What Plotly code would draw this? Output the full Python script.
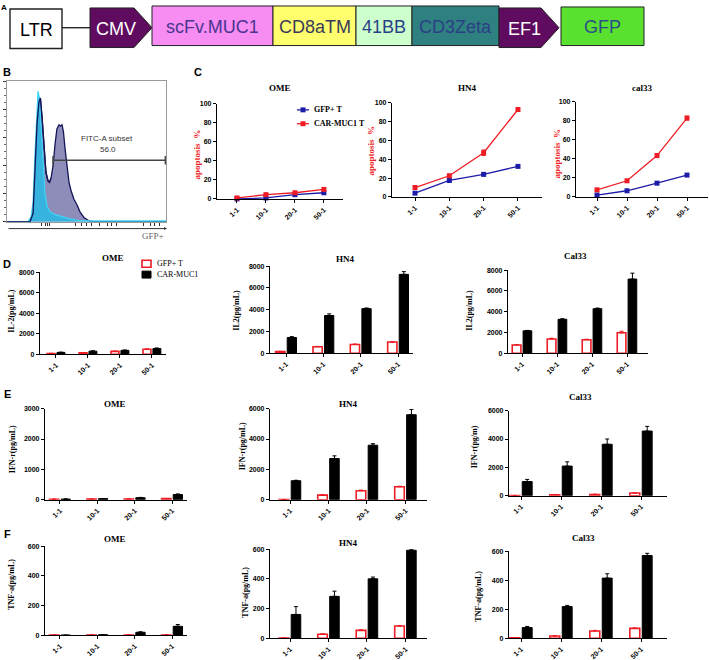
import plotly.graph_objects as go

W, H = 709, 660

# ---------------- data ----------------
categories = ["1-1", "10-1", "20-1", "50-1"]

# Panel B: flow histogram (x: GFP intensity units, y: % of max)
hist_ctrl_x = [0, 13.2, 15.1, 16.4, 17.6, 18.9, 19.5, 20.4, 21.4, 22.6, 23.9, 25.2, 27.0, 30.2, 34.6, 39.6, 44.7, 52.0, 100]
hist_ctrl_y = [0, 0, 3.5, 14, 49, 85, 93, 88, 67, 42, 20, 11, 7, 5, 3.5, 2, 1, 0.5, 0.5]
hist_car_x = [0, 14.5, 16.4, 17.6, 18.9, 20.1, 21.0, 22.0, 23.3, 24.5, 25.8, 26.7, 27.7, 29.0, 30.2, 31.4, 32.7, 33.6,
              34.6, 35.5, 36.5, 37.7, 39.0, 40.3, 42.1, 44.0, 45.9, 48.4, 51.0, 53.5, 100]
hist_car_y = [0, 0, 6, 35, 70, 85, 88, 75, 50, 35, 29, 28, 31, 40, 55, 66, 69, 68,
              69, 64, 52, 38, 28, 22, 16, 12, 7, 3, 1, 0, 0]
gate_subset = "FITC-A subset"
gate_value = "56.0"

# Panel C: apoptosis %
apo_ome_gfp = [0, 1, 4.5, 6.5]
apo_ome_car = [1, 4.5, 6.5, 10]
apo_hn4_gfp = [4, 17.5, 24, 32.5]
apo_hn4_gfp_err = [0.5, 1, 1, 1]
apo_hn4_car = [10, 22.5, 47, 93]
apo_hn4_car_err = [1, 1.5, 3, 2]
apo_cal_gfp = [2, 6.5, 14.5, 23]
apo_cal_gfp_err = [0.5, 0.5, 1, 1]
apo_cal_car = [7.5, 17, 43.5, 83]
apo_cal_car_err = [1, 1, 2, 2]

# Panel D: IL-2 (pg/mL)
il2_ome_gfp = [80, 150, 280, 480]
il2_ome_car = [180, 300, 380, 560]
il2_ome_gfp_err = [10, 20, 30, 40]
il2_ome_car_err = [20, 30, 30, 50]
il2_hn4_gfp = [150, 600, 810, 1030]
il2_hn4_gfp_err = [30, 30, 40, 50]
il2_hn4_car = [1450, 3470, 4100, 7250]
il2_hn4_car_err = [80, 150, 60, 250]
il2_cal_gfp = [800, 1370, 1300, 1970]
il2_cal_gfp_err = [30, 80, 50, 150]
il2_cal_car = [2160, 3270, 4290, 7140]
il2_cal_car_err = [40, 50, 60, 570]

# Panel E: IFN-r (pg/mL)
ifn_ome_gfp = [15, 20, 25, 35]
ifn_ome_gfp_err = [3, 3, 5, 5]
ifn_ome_car = [20, 35, 65, 170]
ifn_ome_car_err = [3, 5, 10, 20]
ifn_hn4_gfp = [10, 300, 590, 850]
ifn_hn4_gfp_err = [5, 40, 40, 40]
ifn_hn4_car = [1250, 2710, 3590, 5600]
ifn_hn4_car_err = [30, 180, 100, 350]
ifn_cal_gfp = [10, 70, 90, 190]
ifn_cal_gfp_err = [5, 20, 20, 20]
ifn_cal_car = [1000, 2090, 3630, 4560]
ifn_cal_car_err = [150, 300, 370, 330]

# Panel F: TNF-a (pg/mL)
tnf_ome_gfp = [0.5, 2, 2, 2]
tnf_ome_gfp_err = [0, 0.5, 0.5, 0.5]
tnf_ome_car = [0.5, 3, 20, 60]
tnf_ome_car_err = [0, 1, 3, 12]
tnf_hn4_gfp = [1, 27, 53, 82]
tnf_hn4_gfp_err = [0, 3, 4, 3]
tnf_hn4_car = [160, 282, 400, 593]
tnf_hn4_car_err = [53, 35, 12, 5]
tnf_cal_gfp = [2, 15, 50, 68]
tnf_cal_gfp_err = [0, 2, 4, 3]
tnf_cal_car = [73, 218, 414, 570]
tnf_cal_car_err = [8, 8, 30, 15]

series_names = ["GFP+ T", "CAR-MUC1 T"]
bar_names = ["GFP+ T", "CAR-MUC1"]

# Panel A: construct
A_parts = ["LTR", "CMV", "scFv.MUC1", "CD8aTM", "41BB", "CD3Zeta", "EF1", "GFP"]

# ---------------- style ----------------
RED = "#ee1c24"
BLUE = "#1c1ca8"
SANS = "Liberation Sans, Arial, sans-serif"
SERIF = "Liberation Serif, Times New Roman, serif"


def px(x):
    return x / W


def py(y):
    return 1 - y / H


fig = go.Figure()
layout = {}
shapes = []
annotations = []


def text_at(x, y, s, font, angle=0, xanchor="center", yanchor="middle"):
    annotations.append(dict(x=px(x), y=py(y), xref="paper", yref="paper", text=s, showarrow=False,
                            xanchor=xanchor, yanchor=yanchor, textangle=angle, font=font))


def axname(i):
    return ("xaxis", "yaxis") if i == 1 else (f"xaxis{i}", f"yaxis{i}")


def axref(i):
    return ("x", "y") if i == 1 else (f"x{i}", f"y{i}")


def add_axes(i, xpx, ypx, xrange, yrange, ydtick):
    xn, yn = axname(i)
    xr, yr = axref(i)
    layout[xn] = dict(domain=[px(xpx[0]), px(xpx[1])], range=xrange, anchor=yr,
                      showgrid=False, zeroline=False, showline=True, linecolor="black", linewidth=1.2,
                      ticks="outside", ticklen=3, tickwidth=1, tickcolor="black",
                      tickvals=list(range(len(categories))), ticktext=categories,
                      tickangle=-45, tickfont=dict(family=SANS, size=7, color="black", weight="bold"),
                      fixedrange=True)
    layout[yn] = dict(domain=[py(ypx[1]), py(ypx[0])], range=yrange, anchor=xr,
                      showgrid=False, zeroline=False, showline=True, linecolor="black", linewidth=1.2,
                      ticks="outside", ticklen=3, tickwidth=1, tickcolor="black",
                      dtick=ydtick, tick0=0,
                      tickfont=dict(family=SANS, size=7, color="black", weight="bold"),
                      fixedrange=True)


# ---------------- Panel B ----------------
xn, yn = axname(1)
layout[xn] = dict(domain=[px(7), px(166)], range=[0, 100], anchor="y", showgrid=False, zeroline=False,
                  showline=True, mirror=True, linecolor="#9a9a9a", linewidth=1,
                  ticks="outside", ticklen=3, tickcolor="#333",
                  tickvals=[22, 24, 25.5, 27, 43, 47, 50, 53, 58, 63, 66, 69, 86, 90, 93, 96],
                  showticklabels=False, fixedrange=True)
layout[yn] = dict(domain=[py(220), py(78)], range=[0, 100], anchor="x", showgrid=False, zeroline=False,
                  showline=True, mirror=True, linecolor="#9a9a9a", linewidth=1,
                  ticks="outside", ticklen=3, tickcolor="#333", dtick=20,
                  minor=dict(ticks="outside", ticklen=2, dtick=5, tickcolor="#666"),
                  showticklabels=False, fixedrange=True)
fig.add_trace(go.Scatter(x=hist_car_x, y=hist_car_y, mode="lines", fill="tozeroy",
                         fillcolor="#8e8cb8", line=dict(color="#15155a", width=1.3),
                         xaxis="x", yaxis="y", showlegend=False, hoverinfo="skip"))
fig.add_trace(go.Scatter(x=hist_ctrl_x, y=hist_ctrl_y, mode="lines", fill="tozeroy",
                         fillcolor="rgba(30,190,235,0.78)", line=dict(color="#3fd4f5", width=1.2),
                         xaxis="x", yaxis="y", showlegend=False, hoverinfo="skip"))
fig.add_trace(go.Scatter(x=hist_car_x[:13], y=hist_car_y[:13], mode="lines",
                         line=dict(color="#15155a", width=1.3),
                         xaxis="x", yaxis="y", showlegend=False, hoverinfo="skip"))

# gate
gate_y = (220 - 158) / 142 * 100
gate_x0 = (53 - 7) / 1.59
shapes.append(dict(type="line", xref="x", yref="y", x0=gate_x0, x1=99.6, y0=gate_y, y1=gate_y,
                   line=dict(color="#444", width=1.5)))
for gx in [gate_x0, 99.6]:
    shapes.append(dict(type="line", xref="x", yref="y", x0=gx, x1=gx, y0=gate_y - 3, y1=gate_y + 3,
                       line=dict(color="#444", width=1.5)))
text_at(107, 136, gate_subset, dict(family=SANS, size=8, color="#333"))
text_at(108, 147, gate_value, dict(family=SANS, size=8, color="#333"))
# arrow axis below
annotations.append(dict(x=px(167), y=py(227), xref="paper", yref="paper", ax=-160, ay=0, text="",
                        showarrow=True, arrowhead=2, arrowsize=0.6, arrowwidth=1, arrowcolor="#333"))
text_at(166, 234, "GFP+", dict(family=SERIF, size=9, color="#666"), xanchor="right")

# ---------------- Panel C ----------------
c_specs = [
    (2, (217, 343), (101, 197), [-0.69, 3.66], apo_ome_gfp, [0] * 4, apo_ome_car, [0] * 4, "OME", (280, 85), (197, 152)),
    (3, (392, 542), (100, 195), [-0.67, 3.7], apo_hn4_gfp, apo_hn4_gfp_err, apo_hn4_car, apo_hn4_car_err, "HN4", (467, 85), (371, 148)),
    (4, (576, 708), (99, 195), [-0.7, 3.7], apo_cal_gfp, apo_cal_gfp_err, apo_cal_car, apo_cal_car_err, "cal33", (642, 85), (557, 151)),
]
for (i, xp, yp, xr_, g, ge, c, ce, title, tpos, lpos) in c_specs:
    add_axes(i, xp, yp, xr_, [0, 100], 20)
    xr, yr = axref(i)
    for vals, errs, col, name in [(g, ge, BLUE, series_names[0]), (c, ce, RED, series_names[1])]:
        fig.add_trace(go.Scatter(x=list(range(len(categories))), y=vals, mode="lines+markers", name=name,
                                 line=dict(color=col, width=1.3),
                                 marker=dict(symbol="square", size=5, color=col),
                                 error_y=dict(type="data", array=errs, color=col, thickness=1, width=2),
                                 cliponaxis=False, xaxis=xr, yaxis=yr, showlegend=False))
    text_at(tpos[0], tpos[1], title, dict(family=SERIF, size=9, color="black", weight="bold"))
    text_at(lpos[0], lpos[1], "apoptosis  %", dict(family=SERIF, size=9, color=RED, weight="bold"), angle=-90)

# C legend (drawn)
for (name, col, ly) in [(series_names[0], BLUE, 107), (series_names[1], RED, 121)]:
    shapes.append(dict(type="line", xref="paper", yref="paper", x0=px(297), x1=px(309), y0=py(ly), y1=py(ly),
                       line=dict(color=col, width=1.3)))
    shapes.append(dict(type="rect", xref="paper", yref="paper", x0=px(300.5), x1=px(305.5), y0=py(ly + 2.5),
                       y1=py(ly - 2.5), fillcolor=col, line=dict(width=0)))
    text_at(312, ly, name, dict(family=SERIF, size=8, color="black", weight="bold"), xanchor="left")

# ---------------- Panels D, E, F ----------------
bar_specs = [
    (5, (40, 166), (271, 354), [-0.5, 3.44], [0, 8000], 2000, il2_ome_gfp, il2_ome_gfp_err, il2_ome_car, il2_ome_car_err, "OME", (113, 257), "IL-2(pg/mL)", (12, 311)),
    (6, (270, 413), (265, 353), [-0.43, 3.4], [0, 8000], 2000, il2_hn4_gfp, il2_hn4_gfp_err, il2_hn4_car, il2_hn4_car_err, "HN4", (345, 258), "IL2(pg/mL)", (237, 310)),
    (7, (508, 648), (269, 353), [-0.4, 3.6], [0, 8000], 2000, il2_cal_gfp, il2_cal_gfp_err, il2_cal_car, il2_cal_car_err, "Cal33", (575, 255), "IL2(pg/mL)", (470, 310)),
    (8, (45, 187), (409, 501), [-0.4, 3.4], [0, 3000], 1000, ifn_ome_gfp, ifn_ome_gfp_err, ifn_ome_car, ifn_ome_car_err, "OME", (115, 404), "IFN-r(pg/mL)", (12, 450)),
    (9, (270, 427), (409, 501), [-0.52, 3.56], [0, 6000], 2000, ifn_hn4_gfp, ifn_hn4_gfp_err, ifn_hn4_car, ifn_hn4_car_err, "HN4", (348, 404), "IFN-r(pg/mL)", (242, 447)),
    (10, (509, 667), (411, 497), [-0.3, 3.65], [0, 6000], 2000, ifn_cal_gfp, ifn_cal_gfp_err, ifn_cal_car, ifn_cal_car_err, "Cal33", (580, 397), "IFN-r(pg/m)", (474, 448)),
    (11, (45, 187), (548, 638), [-0.4, 3.4], [0, 600], 200, tnf_ome_gfp, tnf_ome_gfp_err, tnf_ome_car, tnf_ome_car_err, "OME", (115, 541), "TNF-a(pg/mL)", (12, 587)),
    (12, (270, 427), (551, 641), [-0.52, 3.56], [0, 600], 200, tnf_hn4_gfp, tnf_hn4_gfp_err, tnf_hn4_car, tnf_hn4_car_err, "HN4", (348, 545), "TNF-a(pg/mL)", (246, 595)),
    (13, (509, 667), (553, 641), [-0.3, 3.65], [0, 600], 200, tnf_cal_gfp, tnf_cal_gfp_err, tnf_cal_car, tnf_cal_car_err, "Cal33", (583, 540), "TNF-a(pg/mL)", (479, 598)),
]
for (i, xp, yp, xr_, yrng, dt, g, ge, c, ce, title, tpos, ylab, lpos) in bar_specs:
    add_axes(i, xp, yp, xr_, yrng, dt)
    xr, yr = axref(i)
    fig.add_trace(go.Bar(x=list(range(len(categories))), y=g, name=bar_names[0], offsetgroup="g",
                         marker=dict(color="white", line=dict(color=RED, width=1.6)),
                         error_y=dict(type="data", array=ge, arrayminus=[0] * 4, symmetric=False,
                                      color=RED, thickness=1, width=2),
                         xaxis=xr, yaxis=yr, showlegend=False, cliponaxis=False))
    fig.add_trace(go.Bar(x=list(range(len(categories))), y=c, name=bar_names[1], offsetgroup="c",
                         marker=dict(color="black", line=dict(color="black", width=1)),
                         error_y=dict(type="data", array=ce, arrayminus=[0] * 4, symmetric=False,
                                      color="black", thickness=1, width=2),
                         xaxis=xr, yaxis=yr, showlegend=False, cliponaxis=False))
    text_at(tpos[0], tpos[1], title, dict(family=SERIF, size=9, color="black", weight="bold"))
    text_at(lpos[0], lpos[1], ylab, dict(family=SERIF, size=8, color="black", weight="bold"), angle=-90)

# D legend (drawn)
shapes.append(dict(type="rect", xref="paper", yref="paper", x0=px(142), x1=px(151), y0=py(266), y1=py(259),
                   fillcolor="white", line=dict(color=RED, width=1.6)))
shapes.append(dict(type="rect", xref="paper", yref="paper", x0=px(142), x1=px(151), y0=py(277), y1=py(270),
                   fillcolor="black", line=dict(color="black", width=1)))
text_at(155, 262.5, bar_names[0], dict(family=SERIF, size=8, color="black"), xanchor="left")
text_at(155, 273.5, bar_names[1], dict(family=SERIF, size=8, color="black"), xanchor="left")

# ---------------- Panel A (construct diagram) ----------------
A_fill = ["white", "#5f0b5f", "#f78cf3", "#ffff6e", "#ccffcc", "#2f8080", "#5f0b5f", "#5ae02e"]
A_txt = ["black", "white", "#4a3590", "#3a3a5a", "#2b3f86", "#2b3f86", "white", "#2b4f8a"]
A_box = [(10, 62, 5, 45), (90, 152, 4, 44), (152, 273, 2, 42), (273, 356, 2, 42), (356, 412, 2, 42),
         (412, 499, 2, 42), (499, 559, 4, 44), (561, 644, 3, 42)]
A_arrow = [False, True, False, False, False, False, True, False]
shapes.append(dict(type="line", xref="paper", yref="paper", x0=px(62), x1=px(90), y0=py(24), y1=py(24),
                   line=dict(color="black", width=1.2)))
for name, fill, tc, (x0, x1, y0, y1), arrow in zip(A_parts, A_fill, A_txt, A_box, A_arrow):
    if arrow:
        xs = x1 - 18
        ym = (y0 + y1) / 2
        path = (f"M {px(x0)},{py(y0)} L {px(xs)},{py(y0)} L {px(x1)},{py(ym)} "
                f"L {px(xs)},{py(y1)} L {px(x0)},{py(y1)} Z")
        shapes.append(dict(type="path", xref="paper", yref="paper", path=path, fillcolor=fill,
                           line=dict(color="#222", width=1)))
        cx = (x0 + xs) / 2 + 4
    else:
        shapes.append(dict(type="rect", xref="paper", yref="paper", x0=px(x0), x1=px(x1), y0=py(y0), y1=py(y1),
                           fillcolor=fill, line=dict(color="#222", width=1.4 if name == "LTR" else 1)))
        cx = (x0 + x1) / 2
    text_at(cx, (y0 + y1) / 2 + 1, name, dict(family=SANS, size=18, color=tc))

# panel letters
for letter, (lx, ly), sz in [("A", (4, 4), 8), ("B", (7, 69), 11), ("C", (198, 69), 11),
                             ("D", (7, 263), 11), ("E", (7, 394), 11), ("F", (7, 536), 11)]:
    text_at(lx, ly, letter, dict(family=SANS, size=sz, color="black", weight="bold"))

layout.update(dict(
    width=W, height=H, margin=dict(l=0, r=0, t=0, b=0), paper_bgcolor="white", plot_bgcolor="rgba(0,0,0,0)",
    barmode="group", bargap=0.38, bargroupgap=0.2,
    shapes=shapes, annotations=annotations, showlegend=False,
))
fig.update_layout(**layout)
fig.write_html("out.html", config={"displayModeBar": False},
               post_script="document.body.style.margin='0';document.body.style.overflow='hidden';")
